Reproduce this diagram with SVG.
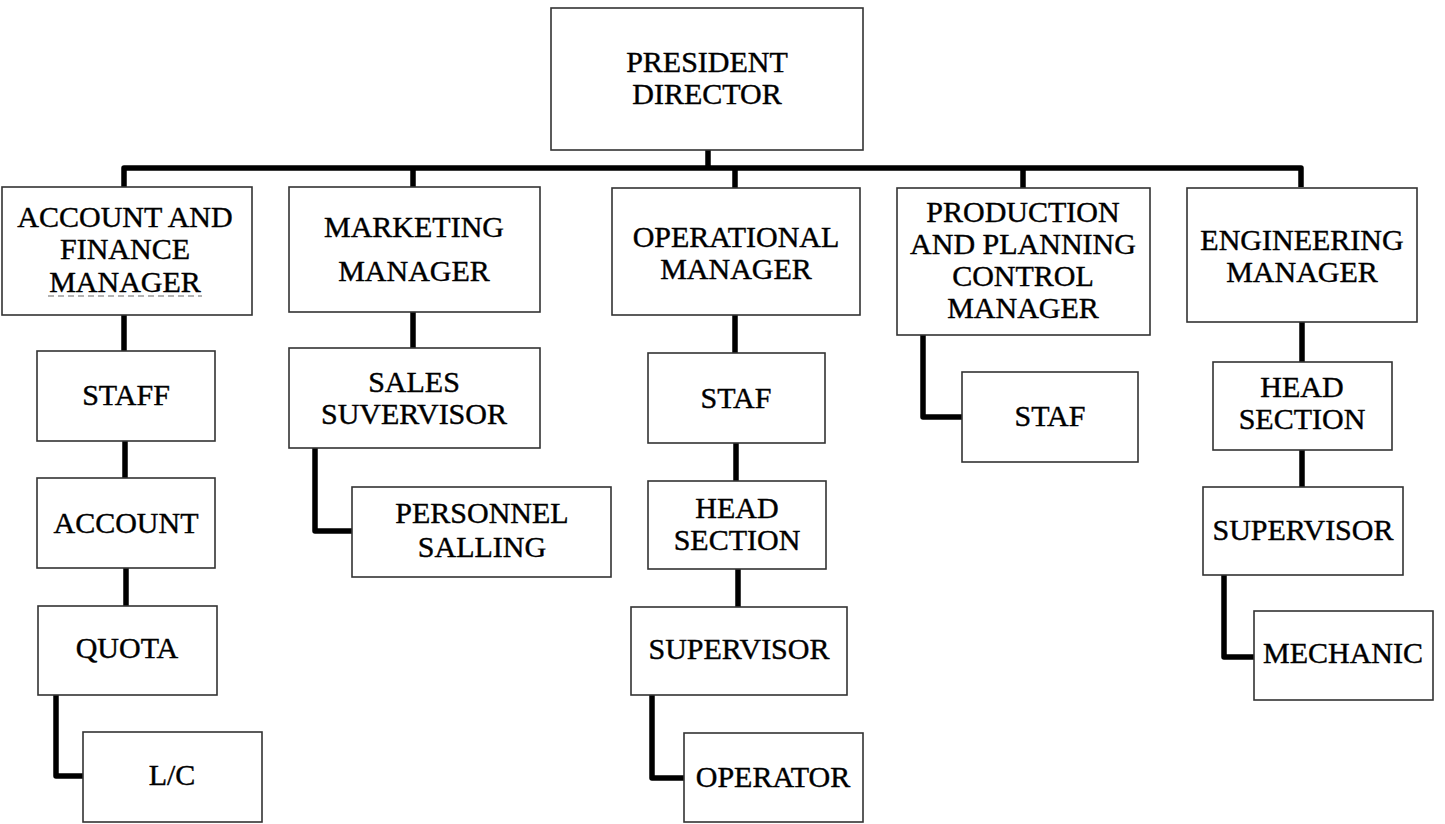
<svg xmlns="http://www.w3.org/2000/svg" width="1445" height="824" viewBox="0 0 1445 824">
<style>
.box{fill:#fff;stroke:#333;stroke-width:1.6}
.t{font-family:"Liberation Serif","Times New Roman",serif;font-size:30px;fill:#000;stroke:#000;stroke-width:0.4;text-anchor:middle}
.c{fill:none;stroke:#000;stroke-width:5.5;stroke-linejoin:round}
</style>
<rect width="1445" height="824" fill="#fff"/>
<g id="connectors">
<path class="c" d="M708 150V168M124 187V168H1301V187M413 168V187M735 168V188M1023 168V188"/>
<path class="c" d="M124 315V351M125 441V478M126 568V606M56 695V776H83"/>
<path class="c" d="M413 312V348M315 448V531H352"/>
<path class="c" d="M735 315V353M736 443V481M738 569V607M652 695V778H684"/>
<path class="c" d="M923 335V417H962"/>
<path class="c" d="M1302 322V362M1302 450V487M1224 575V657H1254"/>
</g>
<g id="president"><rect class="box" x="551" y="8" width="312" height="142"/><text class="t" x="707" y="72">PRESIDENT</text><text class="t" x="707" y="104">DIRECTOR</text></g>
<g id="account-finance"><rect class="box" x="2" y="187" width="250" height="128"/><text class="t" x="125" y="227">ACCOUNT AND</text><text class="t" x="125" y="259">FINANCE</text><text class="t" x="125" y="292">MANAGER</text><line x1="48" y1="296" x2="202" y2="296" stroke="#666" stroke-width="1.2" stroke-dasharray="6 4"/></g>
<g id="marketing"><rect class="box" x="289" y="187" width="251" height="125"/><text class="t" x="414" y="237">MARKETING</text><text class="t" x="414" y="281">MANAGER</text></g>
<g id="operational"><rect class="box" x="612" y="188" width="248" height="127"/><text class="t" x="736" y="247">OPERATIONAL</text><text class="t" x="736" y="279">MANAGER</text></g>
<g id="production"><rect class="box" x="897" y="188" width="253" height="147"/><text class="t" x="1023" y="222">PRODUCTION</text><text class="t" x="1023" y="254">AND PLANNING</text><text class="t" x="1023" y="286">CONTROL</text><text class="t" x="1023" y="318">MANAGER</text></g>
<g id="engineering"><rect class="box" x="1187" y="188" width="230" height="134"/><text class="t" x="1302" y="250">ENGINEERING</text><text class="t" x="1302" y="282">MANAGER</text></g>
<g id="staff"><rect class="box" x="37" y="351" width="178" height="90"/><text class="t" x="126" y="405">STAFF</text></g>
<g id="account"><rect class="box" x="37" y="478" width="178" height="90"/><text class="t" x="126" y="533">ACCOUNT</text></g>
<g id="quota"><rect class="box" x="38" y="606" width="179" height="89"/><text class="t" x="127" y="658">QUOTA</text></g>
<g id="lc"><rect class="box" x="83" y="732" width="179" height="90"/><text class="t" x="172" y="785">L/C</text></g>
<g id="sales-supervisor"><rect class="box" x="289" y="348" width="251" height="100"/><text class="t" x="414" y="392">SALES</text><text class="t" x="414" y="424">SUVERVISOR</text></g>
<g id="personnel-salling"><rect class="box" x="352" y="487" width="259" height="90"/><text class="t" x="482" y="523">PERSONNEL</text><text class="t" x="482" y="557">SALLING</text></g>
<g id="op-staf"><rect class="box" x="648" y="353" width="177" height="90"/><text class="t" x="736" y="408">STAF</text></g>
<g id="op-head-section"><rect class="box" x="648" y="481" width="178" height="88"/><text class="t" x="737" y="518">HEAD</text><text class="t" x="737" y="550">SECTION</text></g>
<g id="op-supervisor"><rect class="box" x="631" y="607" width="216" height="88"/><text class="t" x="739" y="659">SUPERVISOR</text></g>
<g id="operator"><rect class="box" x="684" y="733" width="179" height="89"/><text class="t" x="773" y="787">OPERATOR</text></g>
<g id="prod-staf"><rect class="box" x="962" y="372" width="176" height="90"/><text class="t" x="1050" y="426">STAF</text></g>
<g id="eng-head-section"><rect class="box" x="1213" y="362" width="179" height="88"/><text class="t" x="1302" y="397">HEAD</text><text class="t" x="1302" y="429">SECTION</text></g>
<g id="eng-supervisor"><rect class="box" x="1203" y="487" width="200" height="88"/><text class="t" x="1303" y="540">SUPERVISOR</text></g>
<g id="mechanic"><rect class="box" x="1254" y="611" width="179" height="89"/><text class="t" x="1343" y="663">MECHANIC</text></g>
</svg>
